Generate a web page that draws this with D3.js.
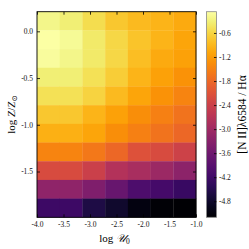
<!DOCTYPE html>
<html>
<head>
<meta charset="utf-8">
<script src="https://cdn.jsdelivr.net/npm/d3@7"></script>
<style>
  body { margin: 0; background: #fff; }
  text { font-family: "Liberation Serif", "DejaVu Serif", serif; }
</style>
</head>
<body>
<div id="viz"></div>
<script>
// grid of the model: columns are log U0, rows are log Z/Zsun (top row first)
const logU = [-3.786, -3.357, -2.929, -2.5, -2.071, -1.643, -1.214]
const logZ = [0.11, -0.09, -0.29, -0.49, -0.69, -0.89, -1.09, -1.29, -1.49, -1.69, -1.89]
const cellW = 3 / 7
const cellH = 0.2

// log [N II]6584/Halpha, one array per row, same order as logZ
const row0  = [-0.22, -0.33, -0.53, -0.74, -0.89, -0.94, -1.04]
const row1  = [-0.07, -0.17, -0.38, -0.58, -0.79, -0.94, -1.10]
const row2  = [-0.12, -0.22, -0.38, -0.58, -0.84, -1.04, -1.15]
const row3  = [-0.33, -0.33, -0.48, -0.69, -0.94, -1.15, -1.30]
const row4  = [-0.48, -0.48, -0.63, -0.89, -1.10, -1.30, -1.46]
const row5  = [-0.74, -0.74, -0.94, -1.15, -1.35, -1.51, -1.66]
const row6  = [-0.99, -0.99, -1.10, -1.35, -1.51, -1.66, -1.81]
const row7  = [-1.46, -1.46, -1.61, -1.81, -2.12, -2.22, -2.38]
const row8  = [-2.22, -2.22, -2.43, -2.74, -2.89, -3.05, -3.25]
const row9  = [-3.20, -3.20, -3.40, -3.71, -4.02, -4.12, -4.28]
const row10 = [-4.23, -4.23, -4.58, -4.79, -5.05, -5.15, -5.20]
const rows = [row0, row1, row2, row3, row4, row5, row6, row7, row8, row9, row10]

const xTicks = [-4.0, -3.5, -3.0, -2.5, -2.0, -1.5, -1.0]
const yTicks = [0.0, -0.5, -1.0, -1.5]
const cTicks = [-0.6, -1.2, -1.8, -2.4, -3.0, -3.6, -4.2, -4.8]
const cRange = [-5.2, -0.07]

// svg size and plot box
const width = 249
const height = 249
const box = {left: 37, right: 196, top: 11.7, bottom: 217.3}
const cbar = {left: 206.5, right: 216.5}

const svg = d3.select("#viz")
  .append("svg")
  .attr("width", width)
  .attr("height", height)

const x = d3.scaleLinear().domain([-4, -1]).range([box.left, box.right])
const y = d3.scaleLinear().domain([-1.99, 0.21]).range([box.bottom, box.top])
const color = d3.scaleSequential(d3.interpolateInferno).domain(cRange)
const fmt = function(d) { return d3.format(".1f")(d).replace("\u2212", "-") }

// flatten grid into cells
const cells = []
rows.forEach(function(r, i) {
  r.forEach(function(v, j) {
    cells.push({u: logU[j], z: logZ[i], v: v})
  })
})

svg.append("g")
  .selectAll("rect")
  .data(cells)
  .enter()
  .append("rect")
  .attr("x", function(d) { return x(d.u - cellW / 2) })
  .attr("y", function(d) { return y(d.z + cellH / 2) })
  .attr("width", function(d) { return x(d.u + cellW / 2) - x(d.u - cellW / 2) + 0.3 })
  .attr("height", function(d) { return y(d.z - cellH / 2) - y(d.z + cellH / 2) + 0.3 })
  .attr("fill", function(d) { return color(d.v) })

// axes with inward ticks on all four sides
svg.append("g")
  .attr("transform", "translate(0," + box.bottom + ")")
  .call(d3.axisBottom(x).tickValues(xTicks).tickFormat(fmt).tickSizeInner(-3).tickSizeOuter(0).tickPadding(4))
svg.append("g")
  .attr("transform", "translate(0," + box.top + ")")
  .call(d3.axisTop(x).tickValues(xTicks).tickFormat("").tickSizeInner(-3).tickSizeOuter(0))
svg.append("g")
  .attr("transform", "translate(" + box.left + ",0)")
  .call(d3.axisLeft(y).tickValues(yTicks).tickFormat(fmt).tickSizeInner(-3).tickSizeOuter(0).tickPadding(4))
svg.append("g")
  .attr("transform", "translate(" + box.right + ",0)")
  .call(d3.axisRight(y).tickValues(yTicks).tickFormat("").tickSizeInner(-3).tickSizeOuter(0))

svg.selectAll(".domain").remove()
svg.selectAll(".tick line").attr("stroke", "#000").attr("stroke-width", 0.8)
svg.selectAll(".tick text").style("font-size", "7.5px").attr("fill", "#111")

svg.append("rect")
  .attr("x", box.left)
  .attr("y", box.top)
  .attr("width", box.right - box.left)
  .attr("height", box.bottom - box.top)
  .attr("fill", "none")
  .attr("stroke", "#000")
  .attr("stroke-width", 0.9)

// colorbar
const c = d3.scaleLinear().domain(cRange).range([box.bottom, box.top])
const grad = svg.append("defs")
  .append("linearGradient")
  .attr("id", "cb")
  .attr("x1", 0).attr("x2", 0).attr("y1", 1).attr("y2", 0)
grad.selectAll("stop")
  .data(d3.range(0, 1.001, 0.05))
  .enter()
  .append("stop")
  .attr("offset", function(d) { return d })
  .attr("stop-color", function(d) { return d3.interpolateInferno(d) })

svg.append("rect")
  .attr("x", cbar.left)
  .attr("y", box.top)
  .attr("width", cbar.right - cbar.left)
  .attr("height", box.bottom - box.top)
  .attr("fill", "url(#cb)")
  .attr("stroke", "#888")
  .attr("stroke-width", 0.8)

svg.append("g")
  .attr("transform", "translate(" + cbar.right + ",0)")
  .call(d3.axisRight(c).tickValues(cTicks).tickFormat(fmt).tickSizeInner(-2.5).tickSizeOuter(0).tickPadding(2.5))
  .call(function(g) { g.select(".domain").remove() })
  .call(function(g) { g.selectAll(".tick line").attr("stroke", "#000").attr("stroke-width", 0.8) })
  .call(function(g) { g.selectAll(".tick text").style("font-size", "7.5px").attr("fill", "#111") })

// x label
const xl = svg.append("text")
  .attr("x", (box.left + box.right) / 2 - 2)
  .attr("y", 242)
  .attr("text-anchor", "middle")
  .style("font-size", "11px")
xl.append("tspan").text("log ")
xl.append("tspan").style("font-style", "italic").text("\uD835\uDCB0")
xl.append("tspan").attr("dy", 2).style("font-size", "7.5px").text("0")

// y label
const yl = svg.append("text")
  .attr("transform", "translate(15," + (box.top + box.bottom) / 2 + ")rotate(-90)")
  .attr("text-anchor", "middle")
  .style("font-size", "11px")
yl.append("tspan").text("log ")
yl.append("tspan").style("font-style", "italic").text("Z")
yl.append("tspan").text("/")
yl.append("tspan").style("font-style", "italic").text("Z")
yl.append("tspan").attr("dy", 2).style("font-size", "7.5px").text("\u2299")

// colorbar label
svg.append("text")
  .attr("transform", "translate(246," + (box.top + box.bottom) / 2 + ")rotate(-90)")
  .attr("text-anchor", "middle")
  .style("font-size", "11.5px")
  .text("[N II]\u03bb6584 / H\u03b1")
</script>
</body>
</html>
